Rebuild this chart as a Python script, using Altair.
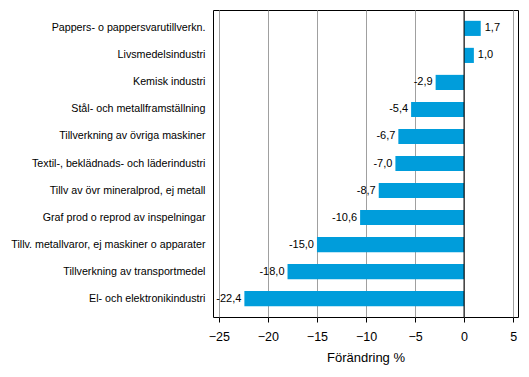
import altair as alt
import pandas as pd

categories = [
    "Pappers- o pappersvarutillverkn.",
    "Livsmedelsindustri",
    "Kemisk industri",
    "Stål- och metallframställning",
    "Tillverkning av övriga maskiner",
    "Textil-, beklädnads- och läderindustri",
    "Tillv av övr mineralprod, ej metall",
    "Graf prod o reprod av inspelningar",
    "Tillv. metallvaror, ej maskiner o apparater",
    "Tillverkning av transportmedel",
    "El- och elektronikindustri",
]
values = [1.7, 1.0, -2.9, -5.4, -6.7, -7.0, -8.7, -10.6, -15.0, -18.0, -22.4]
x_ticks = [-25, -20, -15, -10, -5, 0, 5]

df = pd.DataFrame({
    "cat": categories,
    "val": values,
    "lab": [f"{v:.1f}".replace(".", ",") for v in values],
})

FONT = "Liberation Sans"
xscale = alt.Scale(domain=[-25.6, 5.5], nice=False, zero=False)
yscale = alt.Scale(domain=categories, paddingInner=0.44, paddingOuter=0.4)

base = alt.Chart(df)

bars = base.mark_bar(color="#009ddb").encode(
    x=alt.X("val:Q", scale=xscale,
            axis=alt.Axis(values=x_ticks, title="Förändring %", grid=True,
                          gridColor="#a0a0a0", gridWidth=1,
                          domain=False, tickColor="#000000", tickSize=5,
                          labelFont=FONT, labelFontSize=12.5, labelColor="#000000",
                          titleFont=FONT, titleFontSize=13, titleFontWeight="normal",
                          titleColor="#000000", titlePadding=9, labelPadding=8)),
    y=alt.Y("cat:N", scale=yscale, sort=None,
            axis=alt.Axis(title=None, ticks=False, domain=False,
                          labelFont=FONT, labelFontSize=10.7, labelColor="#000000",
                          labelPadding=8, labelLimit=300)),
)

zero = alt.Chart(pd.DataFrame({"z": [0]})).mark_rule(color="#000000", strokeWidth=1).encode(
    x=alt.X("z:Q", scale=xscale)
)

pos = base.transform_filter("datum.val >= 0").mark_text(
    align="left", baseline="middle", dx=4, font=FONT, fontSize=11, color="#000000"
).encode(x=alt.X("val:Q", scale=xscale), y=alt.Y("cat:N", scale=yscale, sort=None), text="lab:N")

neg = base.transform_filter("datum.val < 0").mark_text(
    align="right", baseline="middle", dx=-3, font=FONT, fontSize=11, color="#000000"
).encode(x=alt.X("val:Q", scale=xscale), y=alt.Y("cat:N", scale=yscale, sort=None), text="lab:N")

chart = alt.layer(bars, zero, pos, neg).properties(
    width=305, height=307,
    autosize=alt.AutoSizeParams(type="none"),
    padding={"left": 213, "top": 10, "right": 11, "bottom": 60},
    background="#ffffff",
).configure_view(stroke="#000000", strokeWidth=1)

chart.save("out.html", embed_options={"renderer": "svg", "actions": False})
